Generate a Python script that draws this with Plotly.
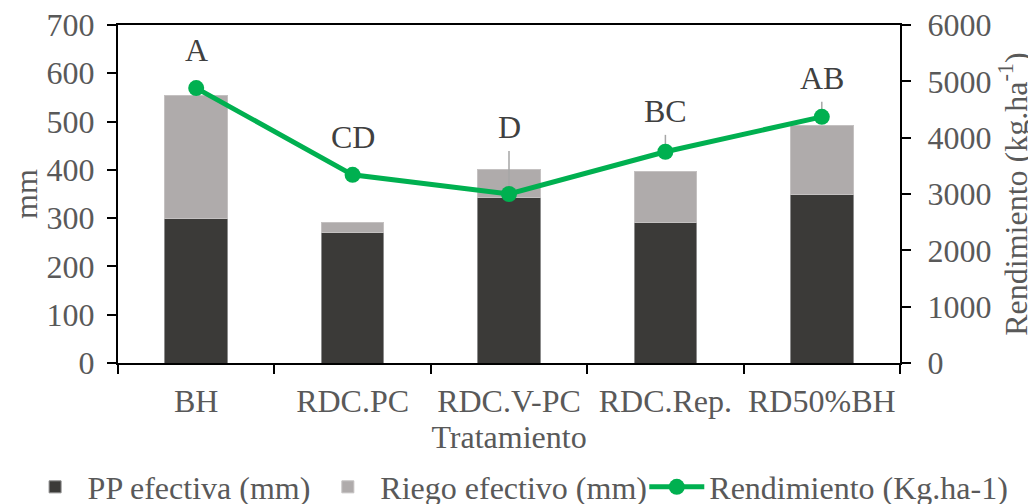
import plotly.graph_objects as go

categories = ["BH", "RDC.PC", "RDC.V-PC", "RDC.Rep.", "RD50%BH"]
pp_efectiva = [300, 271, 342, 292, 350]
riego_efectivo = [255, 21, 58, 104, 141]
rendimiento = [4880, 3340, 3000, 3750, 4370]
rend_err_plus = [0, 0, 763, 300, 266]
letters = ["A", "CD", "D", "BC", "AB"]

FONT = "Liberation Serif, Times New Roman, serif"
TXT = "#595959"
FS = 32

fig = go.Figure()
fig.add_trace(go.Bar(
    x=categories, y=pp_efectiva, name="PP efectiva (mm)", legend="legend",
    marker=dict(color="#3B3A38", line=dict(color="#8C8C8C", width=1)),
))
fig.add_trace(go.Bar(
    x=categories, y=riego_efectivo, name="Riego efectivo (mm)", legend="legend",
    marker=dict(color="#AFABAB", line=dict(color="#C4C1C1", width=1)),
))
fig.add_trace(go.Scatter(
    x=categories, y=rendimiento, name="Rendimiento (Kg.ha-1)", yaxis="y2",
    legend="legend2",
    mode="lines+markers",
    line=dict(color="#00B050", width=5),
    marker=dict(color="#00B050", size=16),
    error_y=dict(type="data", symmetric=False, array=rend_err_plus,
                 arrayminus=[0] * len(rend_err_plus),
                 color="#A6A6A6", thickness=1.5, width=0),
))

for c, r, e, t in zip(categories, rendimiento, rend_err_plus, letters):
    fig.add_annotation(
        x=c, y=r + e, yref="y2", text=t, showarrow=False,
        yanchor="bottom", yshift=4 if e > 0 else 18,
        font=dict(family=FONT, size=FS, color="#404040"),
    )

legend_common = dict(orientation="h", xanchor="left", yanchor="middle",
                     font=dict(family=FONT, size=FS, color=TXT),
                     itemwidth=55, bgcolor="rgba(0,0,0,0)", borderwidth=0,
                     traceorder="normal")

# the page body adds an 8px offset; the figure is sized to compensate
fig.update_layout(
    width=1028, height=496,
    barmode="stack", bargap=0.6,
    paper_bgcolor="white", plot_bgcolor="white",
    margin=dict(l=110, r=136, t=17, b=141, autoexpand=False),
    font=dict(family=FONT, size=FS, color=TXT),
    showlegend=True,
    legend=dict(x=-0.122, y=-0.367, **legend_common),
    legend2=dict(x=0.673, y=-0.367, **legend_common),
    xaxis=dict(
        showline=True, linecolor="black", linewidth=2, mirror=True,
        ticks="outside", tickson="boundaries", ticklen=9, tickwidth=2, tickcolor="black",
        tickangle=0, ticklabelstandoff=9, ticklabeloverflow="allow",
        tickfont=dict(family=FONT, size=FS, color=TXT),
        title=dict(text="Tratamiento", standoff=6,
                   font=dict(family=FONT, size=FS, color=TXT)),
        showgrid=False, automargin=False,
    ),
    yaxis=dict(
        range=[0, 700], dtick=100, showline=True, linecolor="black", linewidth=2,
        ticks="outside", ticklen=9, tickwidth=2, tickcolor="black",
        ticklabelstandoff=6, ticklabeloverflow="allow",
        tickfont=dict(family=FONT, size=FS, color=TXT),
        title=dict(text="mm", standoff=12, font=dict(family=FONT, size=FS, color=TXT)),
        showgrid=False, zeroline=False, automargin=False,
    ),
    yaxis2=dict(
        range=[0, 6000], dtick=1000, overlaying="y", side="right",
        showline=True, linecolor="black", linewidth=2,
        ticks="outside", ticklen=9, tickwidth=2, tickcolor="black",
        ticklabelstandoff=10, ticklabeloverflow="allow",
        tickfont=dict(family=FONT, size=FS, color=TXT),
        title=dict(text="Rendimiento (kg.ha<sup>-1</sup>)", standoff=14,
                   font=dict(family=FONT, size=FS, color=TXT)),
        showgrid=False, zeroline=False, automargin=False,
    ),
)

fig.write_html("out.html")
